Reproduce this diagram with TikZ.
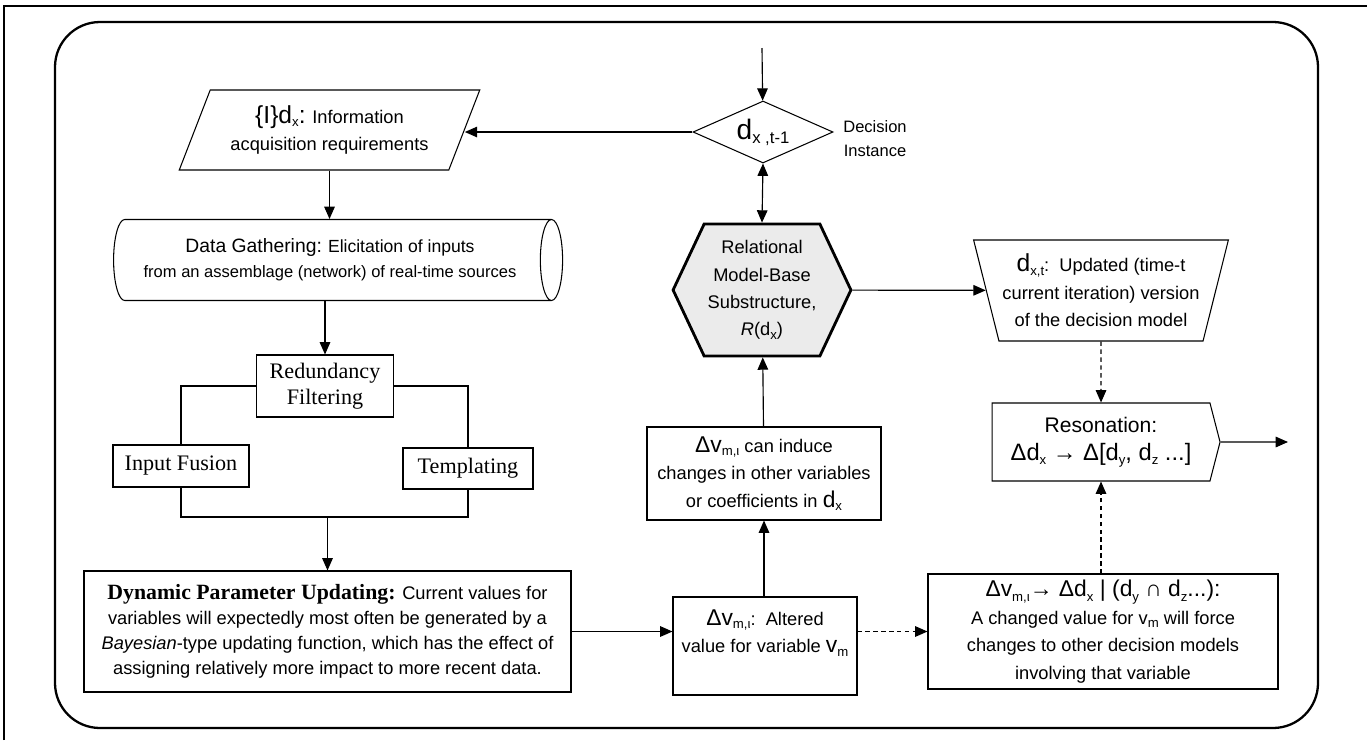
\documentclass[tikz,border=0pt]{standalone}
\usepackage{fontspec}
\setmainfont{Liberation Sans}
\newfontfamily\timesfont{Liberation Serif}
\usepackage{tikz}
\usetikzlibrary{arrows.meta}
\usetikzlibrary{shapes.geometric}
\usetikzlibrary{shapes.symbols}
\usetikzlibrary{calc}

\newcommand{\txt}{\fontsize{10.4pt}{15.6pt}\selectfont}
\newcommand{\sbs}[1]{\raisebox{-0.35ex}{\fontsize{7.5pt}{8pt}\selectfont #1}}
\newcommand{\bigtxt}[1]{{\fontsize{13pt}{14pt}\selectfont #1}}

\begin{document}
\begin{tikzpicture}[>={Triangle[length=7pt,width=6pt]}, line width=0.65pt,
  every node/.style={font=\txt, align=center, inner sep=2pt},
  procbox/.style={draw, rectangle, line width=0.6pt},
  serifbox/.style={procbox, font=\timesfont\fontsize{12.6pt}{14.8pt}\selectfont},
  dashline/.style={dash pattern=on 2.5pt off 2pt}]
  \useasboundingbox (0,0) rectangle (27.34,-14.8);

  % frame
  \draw[line width=1.6pt] (0.08,-14.8) -- (0.08,-0.12) -- (27.34,-0.12);
  \draw[line width=1.3pt, rounded corners=0.9cm] (1.1,-0.44) rectangle (26.36,-14.56);

  % left column
  \coordinate (top) at (15.24,-0.96);
  \node[diamond, draw, line width=0.6pt, aspect=2.26, minimum width=2.8cm, minimum height=1.24cm, inner sep=0pt] (diam) at (15.26,-2.64)
    {{\fontsize{16pt}{18pt}\selectfont d}\raisebox{-0.4ex}{\fontsize{9.5pt}{10pt}\selectfont x ,t-1}};
  \node[font=\fontsize{9.4pt}{13.7pt}\selectfont] (inst) at (17.5,-2.78) {Decision\\Instance};
  \node[trapezium, draw, line width=0.6pt, trapezium left angle=64.6, trapezium right angle=115.4, trapezium stretches=true,
    minimum width=6.02cm, minimum height=1.6cm] (info) at (6.59,-2.6)
    {{\fontsize{14pt}{16pt}\selectfont\{I\}d}\sbs{x}{\fontsize{14pt}{16pt}\selectfont :} Information\\acquisition requirements};
  \node[cylinder, draw, line width=0.6pt, aspect=0.45, minimum height=8.98cm, minimum width=1.62cm,
    font=\fontsize{9.4pt}{14.2pt}\selectfont] (cyl) at (6.6,-5.2)
    {{\fontsize{11pt}{14pt}\selectfont Data Gathering:} {\fontsize{10pt}{14pt}\selectfont Elicitation of inputs}\\from an assemblage (network) of real-time sources};
  \node[serifbox, minimum width=2.74cm, minimum height=1.24cm] (red) at (6.5,-7.72) {Redundancy\\Filtering};
  \node[serifbox, minimum width=2.72cm, minimum height=0.84cm] (fus) at (3.62,-9.32) {Input Fusion};
  \node[serifbox, minimum width=2.6cm, minimum height=0.82cm] (tmp) at (9.36,-9.37) {Templating};
  \coordinate (mrg) at (6.55,-10.34);
  \node[procbox, minimum width=9.74cm, minimum height=2.42cm, font=\fontsize{10.4pt}{14.2pt}\selectfont] (dpu) at (6.55,-12.63)
    {{\timesfont\bfseries\fontsize{12.4pt}{14pt}\selectfont Dynamic Parameter Updating:} Current values for\\
     variables will expectedly most often be generated by a\\
     \textit{Bayesian}-type updating function, which has the effect of\\
     assigning relatively more impact to more recent data.};

  % middle column
  \node[signal, signal to=east and west, signal pointer angle=129.6, draw, line width=1.6pt, fill=black!8,
    minimum width=3.2cm, minimum height=2.64cm] (rmb) at (15.24,-5.8)
    {Relational\\Model-Base\\Substructure,\\\textit{R}(d\sbs{x})};
  \node[procbox, minimum width=4.68cm, minimum height=1.86cm] (can) at (15.28,-9.47)
    {\bigtxt{Δv}\sbs{m,ι} can induce\\changes in other variables\\or coefficients in \bigtxt{d}\sbs{x}};
  \node[procbox, minimum width=3.68cm, minimum height=1.96cm, text depth=17pt] (alt) at (15.3,-12.92)
    {\bigtxt{Δv}\sbs{m,ι}:\ \ Altered\\value for variable \bigtxt{v}\sbs{m}};

  % right column
  \node[trapezium, draw, line width=0.6pt, trapezium left angle=72.4, trapezium right angle=72.4, shape border rotate=180,
    trapezium stretches=true, minimum width=5.06cm, minimum height=2.02cm] (trap) at (22.02,-5.81)
    {{\fontsize{14pt}{16pt}\selectfont d}\sbs{x,t}:\ \ Updated (time-t\\current iteration) version\\of the decision model};
  \node[signal, signal to=east, signal pointer angle=151, draw, line width=0.6pt, minimum width=4.56cm, minimum height=1.56cm,
    font=\fontsize{12pt}{16pt}\selectfont] (res) at (22.02,-8.84)
    {Resonation:\\{\fontsize{13.5pt}{16pt}\selectfont Δd\sbs{x} → Δ[d\sbs{y}, d\sbs{z} ...]}};
  \coordinate (exit) at (25.76,-8.84);
  \node[procbox, minimum width=7.0cm, minimum height=2.3cm] (chg) at (22.06,-12.63)
    {\bigtxt{Δv\sbs{m,ι}→ Δd\sbs{x} | (d\sbs{y} ∩ d\sbs{z}...):}\\
     A changed value for v\sbs{m} will force\\
     changes to other decision models\\
     involving that variable};

  % connectors
  \draw[->] (top) -- (diam);
  \draw[->] (diam.west) -- (info.east |- diam.west);
  \draw[->] (info.south) -- (info.south |- cyl.north);
  \draw[->] (cyl.south -| red.north) -- (red.north);
  \draw[line width=0.6pt] (red.west) -| (fus.north);
  \draw[line width=0.6pt] (red.east) -| (tmp.north);
  \draw[line width=0.6pt] (fus.south) |- (mrg) -| (tmp.south);
  \draw[->] (mrg) -- (dpu);
  \draw[<->] (diam.south) -- (rmb.north);
  \draw[->] (rmb) -- (trap);
  \draw[->, dashline] (trap) -- (res);
  \draw[->] (res) -- (exit);
  \draw[->, dashline] (res.south |- chg.north) -- (res.south);
  \draw[->] (dpu.east) -- (dpu.east -| alt.west);
  \draw[->, dashline] (dpu.east -| alt.east) -- (dpu.east -| chg.west);
  \draw[->] (can.south |- alt.north) -- (can.south);
  \draw[->] (can) -- (rmb);
\end{tikzpicture}
\end{document}
